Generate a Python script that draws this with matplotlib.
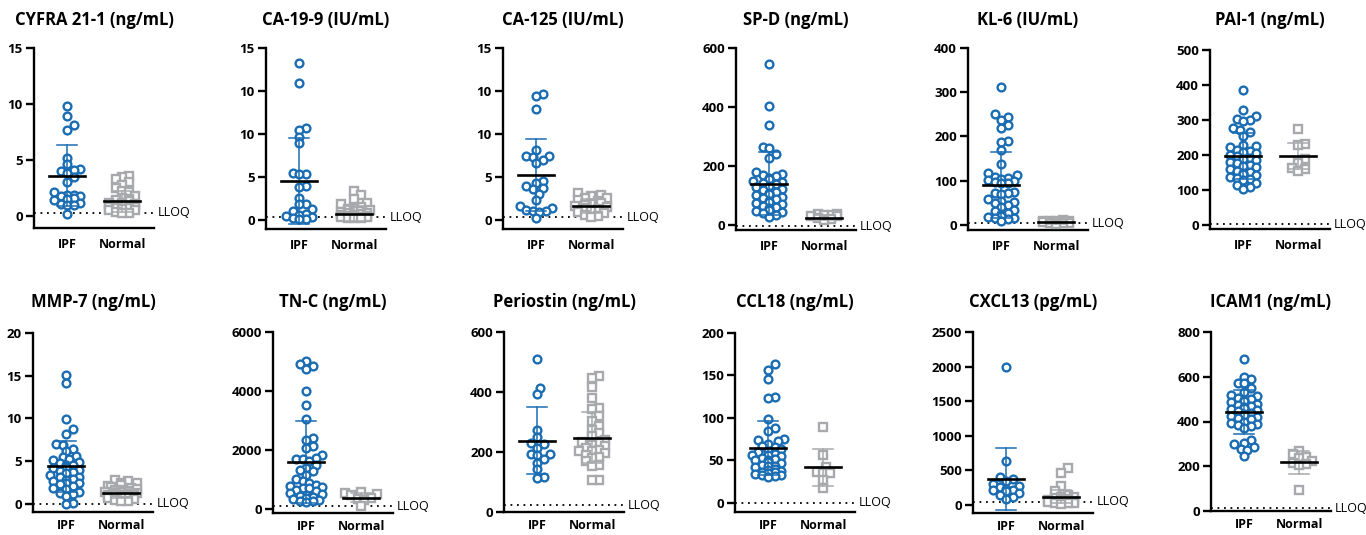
import matplotlib
matplotlib.use("Agg")
import matplotlib.pyplot as plt
import numpy as np

plt.rcParams['font.family'] = ['Open Sans', 'DejaVu Sans']

BLUE = '#1b6db3'
GREY = '#a7a9ac'

titles = ['CYFRA 21-1 (ng/mL)', 'CA-19-9 (IU/mL)', 'CA-125 (IU/mL)', 'SP-D (ng/mL)',
          'KL-6 (IU/mL)', 'PAI-1 (ng/mL)', 'MMP-7 (ng/mL)', 'TN-C (ng/mL)',
          'Periostin (ng/mL)', 'CCL18 (ng/mL)', 'CXCL13 (pg/mL)', 'ICAM1 (ng/mL)']
groups = ['IPF', 'Normal']

# per-panel y ticks (positions and labels as printed)
yticks = [[0, 5, 10, 15], [0, 5, 10, 15, 20], [0, 5, 10, 15, 20], [0, 200, 400, 600],
          [0, 100, 200, 300, 400], [0, 100, 200, 300, 400, 500], [0, 5, 10, 15, 20],
          [0, 2000, 4000, 6000], [0, 200, 400, 600], [0, 50, 100, 150, 200],
          [0, 500, 1000, 1500, 2000, 2500], [0, 200, 400, 600, 800]]
ytick_labels = [None, ['0', '5', '10', '10', '15'], ['0', '5', '10', '10', '15'],
                None, None, None, None, None, None, None, None, None]

# data
cyfra_ipf = [9.8, 8.9, 8.1, 7.7, 5.2, 4.6, 4.2, 4.1, 4.0, 3.8, 3.5, 3.0, 2.1, 1.9, 1.9,
             1.8, 1.8, 1.6, 1.5, 1.4, 1.2, 1.1, 1.0, 1.0, 0.15]
cyfra_norm = [3.6, 3.5, 3.3, 3.0, 2.8, 2.5, 2.2, 2.1, 1.8, 1.6, 1.5, 1.4, 1.3, 1.2, 1.2,
              1.1, 1.0, 1.0, 0.9, 0.9, 0.8, 0.8, 0.7, 0.7, 0.6, 0.5, 0.5, 0.4, 0.3, 0.3]
ca199_ipf = [18.3, 15.9, 10.7, 10.5, 9.7, 8.9, 5.5, 5.4, 5.3, 3.9, 3.8, 2.6, 1.9, 1.8,
             1.3, 1.1, 0.7, 0.6, 0.45, 0.3, 0.2, 0.15, 0.1]
ca199_norm = [3.4, 2.9, 2.4, 2.0, 1.8, 1.5, 1.4, 1.3, 1.2, 1.0, 1.0, 0.9, 0.8, 0.8, 0.7,
              0.6, 0.6, 0.5, 0.5, 0.4, 0.4, 0.3, 0.3, 0.2, 0.2, 0.2]
ca125_ipf = [14.7, 14.4, 12.9, 8.1, 7.4, 7.4, 7.3, 7.0, 6.6, 4.5, 4.3, 3.9, 3.7, 3.6,
             3.0, 2.3, 1.6, 1.4, 1.2, 1.1, 1.0, 0.9, 0.2]
ca125_norm = [3.1, 2.9, 2.8, 2.6, 2.5, 2.3, 2.2, 2.0, 1.9, 1.8, 1.7, 1.6, 1.5, 1.4, 1.3,
              1.2, 1.1, 1.0, 0.9, 0.8, 0.6, 0.5, 0.3]
spd_ipf = [547, 404, 340, 263, 262, 241, 228, 180, 172, 170, 165, 160, 155, 150, 145,
           142, 138, 132, 128, 122, 117, 112, 108, 104, 100, 96, 92, 88, 82, 78, 75, 70,
           65, 60, 56, 52, 48, 44, 40, 35, 27]
spd_norm = [38, 36, 34, 33, 31, 30, 22, 20, 18]
kl6_ipf = [311, 250, 243, 238, 225, 220, 190, 188, 170, 137, 118, 113, 108, 106, 104,
           102, 100, 98, 96, 94, 75, 73, 72, 70, 58, 55, 53, 50, 45, 40, 35, 32, 28, 25,
           20, 18, 16, 15, 13, 10]
kl6_norm = [12, 10, 9, 8, 8, 7, 6, 6, 5, 5, 4, 3]
pai1_ipf = [387, 330, 312, 304, 300, 298, 276, 272, 266, 255, 230, 226, 222, 215, 212,
            208, 205, 200, 196, 192, 188, 185, 180, 176, 172, 170, 165, 160, 155, 152,
            148, 145, 142, 138, 135, 132, 128, 120, 115, 110, 104]
pai1_norm = [273, 232, 228, 190, 176, 162, 160, 155]
mmp7_ipf = [15.1, 14.2, 9.9, 8.8, 8.2, 7.0, 6.9, 6.4, 6.2, 5.6, 5.5, 5.3, 5.1, 4.9, 4.8,
            4.6, 4.5, 4.3, 4.2, 4.0, 3.9, 3.7, 3.6, 3.4, 3.2, 3.1, 2.9, 2.8, 2.7, 2.5,
            2.4, 2.3, 2.1, 1.9, 1.8, 1.4, 1.3, 1.2, 0.9, 0.1, 0.05]
mmp7_norm = [2.8, 2.7, 2.5, 2.4, 2.2, 2.1, 2.0, 1.9, 1.7, 1.6, 1.6, 1.5, 1.4, 1.4, 1.3,
             1.3, 1.2, 1.1, 1.1, 1.0, 1.0, 0.9, 0.8, 0.7, 0.6, 0.5, 0.4, 0.3]
tnc_ipf = [5000, 4920, 4860, 4760, 4000, 3540, 3060, 2400, 2350, 2120, 2070, 1840, 1730,
           1700, 1690, 1620, 1500, 1400, 1330, 1280, 1160, 1000, 950, 880, 830, 790, 760,
           720, 700, 660, 600, 550, 520, 480, 440, 400, 380, 350, 310, 280, 260, 240]
tnc_norm = [560, 530, 500, 470, 380, 350, 320, 110]
peri_ipf = [510, 415, 395, 272, 250, 230, 228, 215, 195, 192, 190, 178, 165, 143, 118, 112]
peri_norm = [452, 448, 417, 380, 347, 345, 319, 302, 286, 274, 262, 252, 241, 233, 230,
             225, 219, 213, 208, 205, 202, 196, 191, 185, 180, 169, 158, 152, 108, 106]
ccl18_ipf = [163, 157, 146, 125, 123, 99, 88, 85, 75, 74, 73, 69, 67, 66, 63, 61, 60, 58,
             57, 56, 55, 53, 52, 51, 50, 48, 47, 45, 44, 43, 42, 40, 39, 38, 37, 36, 35,
             34, 33, 33, 32, 31]
ccl18_norm = [89, 57, 42, 36, 35, 35, 27, 18]
cxcl13_ipf = [1990, 630, 410, 370, 345, 310, 280, 260, 230, 220, 210, 200, 175, 150, 120, 90]
cxcl13_norm = [540, 460, 280, 200, 150, 120, 110, 100, 90, 80, 70, 60, 50, 50, 40, 40,
               30, 30, 30, 20]
icam1_ipf = [680, 601, 588, 573, 570, 550, 530, 520, 515, 505, 500, 495, 490, 485, 480,
             475, 470, 465, 460, 455, 450, 445, 440, 435, 430, 425, 420, 415, 410, 400,
             395, 390, 385, 378, 370, 318, 305, 298, 285, 275, 272, 245]
icam1_norm = [268, 256, 243, 238, 222, 215, 210, 205, 92]

ipf_data = [cyfra_ipf, ca199_ipf, ca125_ipf, spd_ipf, kl6_ipf, pai1_ipf,
            mmp7_ipf, tnc_ipf, peri_ipf, ccl18_ipf, cxcl13_ipf, icam1_ipf]
norm_data = [cyfra_norm, ca199_norm, ca125_norm, spd_norm, kl6_norm, pai1_norm,
             mmp7_norm, tnc_norm, peri_norm, ccl18_norm, cxcl13_norm, icam1_norm]

# mean and SD as drawn in the picture
ipf_mean = [3.6, 4.5, 5.2, 140, 90, 198, 4.4, 1582, 238, 65, 376, 442]
ipf_sd = [2.75, 5.0, 4.2, 107, 75, 66, 3.0, 1390, 112, 32, 448, 98]
norm_mean = [1.3, 0.75, 1.65, 25, 6, 197, 1.3, 380, 248, 42, 120, 217]
norm_sd = [0.9, 0.85, 0.8, 8, 3, 38, 0.6, 150, 85, 22, 90, 52]
lloq = [0.3, 0.3, 0.3, -4, 4, 2, 0, 100, 22, 0, 50, 12]

# layout in pixels: (spine left, top of y range, bottom spine), plus lower y limit
W, H = 1366, 535
boxes = [(34, 48, 228), (266, 48, 229), (503, 48, 229), (736, 48, 230), (968, 48, 230),
         (1210, 50, 229), (33, 333, 512), (273, 332, 513), (504, 332, 512),
         (735, 333, 512), (973, 332, 513), (1211, 332, 511)]
ymins = [-1.07, -1.05, -1.05, -17, -11.3, -11.4, -0.94, -136, 0, -10.6, -116, 0]
AX_W = 120
XLIM = (-0.6, 1.58)


def swarm(vals, ax, spacing=6.5, max_off=18):
    pix = ax.transData.transform(np.column_stack([np.zeros(len(vals)), vals]))[:, 1]
    cands = [0.0]
    k = 1
    while k * spacing / 2 <= max_off:
        cands += [k * spacing / 2, -k * spacing / 2]
        k += 1
    offs = np.zeros(len(vals))
    placed = []
    for i in np.argsort(pix):
        best, best_n = 0.0, None
        for c in cands:
            n = sum(1 for px, py in placed if (px - c) ** 2 + (py - pix[i]) ** 2 < spacing ** 2)
            if best_n is None or n < best_n:
                best, best_n = c, n
            if n == 0:
                break
        offs[i] = best
        placed.append((best, pix[i]))
    return offs * (XLIM[1] - XLIM[0]) / AX_W


fig = plt.figure(figsize=(W / 100, H / 100), dpi=100)

for i in range(12):
    left, top, bottom = boxes[i]
    ax = fig.add_axes([left / W, 1 - bottom / H, AX_W / W, (bottom - top) / H])
    ymax = yticks[i][-1]
    ax.set_ylim(ymins[i], ymax)
    ax.set_xlim(*XLIM)

    for spine in ['top', 'right']:
        ax.spines[spine].set_visible(False)
    ax.spines['left'].set_linewidth(1.7)
    ax.spines['bottom'].set_linewidth(1.7)
    ax.spines['left'].set_bounds(ymins[i], ymax)

    ax.set_yticks(yticks[i])
    if ytick_labels[i] is not None:
        ax.set_yticklabels(ytick_labels[i])
    ax.tick_params(axis='y', length=6, width=1.7, labelsize=9.5, pad=2)
    for lab in ax.get_yticklabels():
        lab.set_fontweight('bold')
    ax.set_xticks([0, 1])
    ax.set_xticklabels(groups, fontsize=9, fontweight='bold')
    ax.tick_params(axis='x', length=0, pad=7 if i < 6 else 5)

    for gx, vals, col, mk, ms, mean, sd in [
            (0, ipf_data[i], BLUE, 'o', 5.6, ipf_mean[i], ipf_sd[i]),
            (1, norm_data[i], GREY, 's', 5.2, norm_mean[i], norm_sd[i])]:
        vals = np.array(vals, dtype=float)
        xs = gx + swarm(vals, ax)
        ax.plot(xs, vals, linestyle='none', marker=mk, markersize=ms,
                markerfacecolor='white', markeredgecolor=col, markeredgewidth=1.7,
                zorder=3)
        ax.plot([gx, gx], [mean - sd, mean + sd], color=col, lw=1.1, zorder=4)
        for yy in (mean - sd, mean + sd):
            ax.plot([gx - 0.18, gx + 0.18], [yy, yy], color=col, lw=1.1, zorder=4)
        ax.plot([gx - 0.32, gx + 0.32], [mean, mean], color='black', lw=1.9, zorder=5)

    ax.plot(XLIM, [lloq[i], lloq[i]], color='black', lw=1.3,
            linestyle=(0, (1, 2.6)), zorder=2)
    ax.text(XLIM[1] + 0.06, lloq[i], 'LLOQ', fontsize=9, va='center', ha='left',
            clip_on=False)

    cx = (left + AX_W / 2) / W
    ty = 20 if i < 6 else 302
    fig.text(cx, 1 - ty / H, titles[i], fontsize=12, fontweight='bold',
             ha='center', va='center')

fig.savefig('out.png', dpi=100)
